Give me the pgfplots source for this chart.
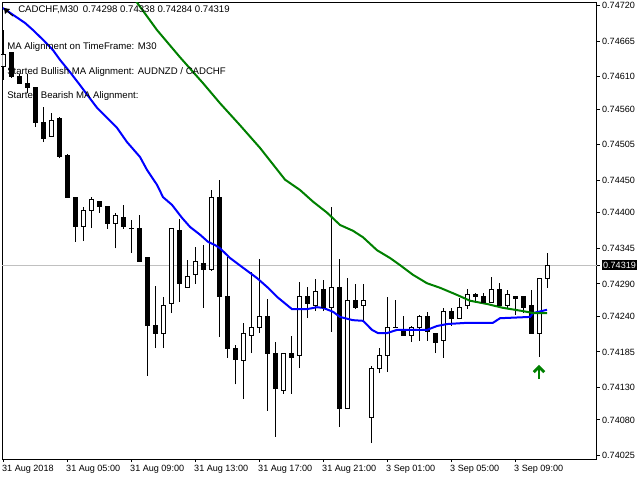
\documentclass[border=0pt]{standalone}
\usepackage{pgfplots}
\usepackage{pgfplotstable}
\pgfplotsset{compat=1.18}
\usepackage{fontspec}
\setmainfont{Liberation Sans}
\definecolor{mablue}{RGB}{0,0,255}
\definecolor{magreen}{RGB}{0,128,0}
\definecolor{pricegray}{RGB}{192,192,192}
\newcommand\tfont{\fontsize{6.8}{8}\selectfont}
\newcommand\infofont{\fontsize{7.2}{9}\selectfont}
\pgfdeclareplotmark{uparr}{%
  \pgfsetlinewidth{2.2pt}%
  \pgfpathmoveto{\pgfpoint{0pt}{-4.9pt}}%
  \pgfpathlineto{\pgfpoint{0pt}{3.6pt}}%
  \pgfusepathqstroke
  \pgfpathmoveto{\pgfpoint{-3.9pt}{0.4pt}}%
  \pgfpathlineto{\pgfpoint{0pt}{4.3pt}}%
  \pgfpathlineto{\pgfpoint{3.9pt}{0.4pt}}%
  \pgfusepathqstroke
}
% columns: index, low, lower body edge, upper body edge, high
\pgfplotstableread{
i L lo hi H
0 0.74605 0.74625 0.74644 0.74682
6 0.74517 0.74517 0.74543 0.74554
10 0.74356 0.74378 0.74403 0.74409
11 0.74376 0.74403 0.74420 0.74424
14 0.74345 0.74384 0.74395 0.74400
16 0.74338 0.74376 0.74376 0.74389
20 0.74191 0.74213 0.74256 0.74270
21 0.74245 0.74259 0.74376 0.74376
23 0.74285 0.74285 0.74302 0.74327
24 0.74290 0.74304 0.74324 0.74347
26 0.74310 0.74312 0.74423 0.74435
30 0.74112 0.74171 0.74213 0.74230
31 0.74183 0.74210 0.74223 0.74308
32 0.74214 0.74222 0.74239 0.74328
35 0.74120 0.74125 0.74183 0.74183
37 0.74160 0.74179 0.74271 0.74293
39 0.74248 0.74257 0.74278 0.74298
41 0.74216 0.74254 0.74284 0.74409
43 0.74098 0.74098 0.74265 0.74299
45 0.74234 0.74257 0.74265 0.74290
46 0.74044 0.74084 0.74159 0.74163
47 0.74152 0.74159 0.74179 0.74191
48 0.74154 0.74179 0.74223 0.74270
49 0.74222 0.74223 0.74223 0.74265
51 0.74200 0.74211 0.74222 0.74225
52 0.74202 0.74222 0.74239 0.74242
55 0.74176 0.74202 0.74248 0.74253
57 0.74236 0.74236 0.74254 0.74268
58 0.74251 0.74256 0.74274 0.74282
61 0.74261 0.74261 0.74281 0.74301
63 0.74251 0.74256 0.74273 0.74281
67 0.74177 0.74214 0.74298 0.74299
68 0.74284 0.74298 0.74319 0.74338
}\bulltab
\pgfplotstableread{
i L lo hi H
1 0.74608 0.74610 0.74647 0.74648
2 0.74600 0.74600 0.74611 0.74614
3 0.74585 0.74594 0.74600 0.74614
4 0.74532 0.74539 0.74593 0.74593
5 0.74509 0.74515 0.74539 0.74563
7 0.74484 0.74486 0.74546 0.74548
8 0.74424 0.74424 0.74489 0.74491
9 0.74355 0.74378 0.74424 0.74424
12 0.74400 0.74409 0.74417 0.74417
13 0.74375 0.74384 0.74410 0.74410
15 0.74375 0.74378 0.74393 0.74412
17 0.74324 0.74325 0.74376 0.74396
18 0.74148 0.74225 0.74330 0.74330
19 0.74191 0.74213 0.74225 0.74287
22 0.74262 0.74290 0.74372 0.74390
25 0.74253 0.74313 0.74322 0.74350
27 0.74208 0.74270 0.74423 0.74451
28 0.74176 0.74190 0.74270 0.74332
29 0.74135 0.74174 0.74191 0.74196
33 0.74094 0.74183 0.74239 0.74267
34 0.74054 0.74129 0.74183 0.74200
36 0.74120 0.74177 0.74183 0.74210
38 0.74237 0.74259 0.74271 0.74285
40 0.74248 0.74253 0.74281 0.74296
42 0.74069 0.74098 0.74284 0.74328
44 0.74251 0.74254 0.74265 0.74290
50 0.74210 0.74210 0.74217 0.74240
53 0.74202 0.74216 0.74239 0.74247
54 0.74183 0.74200 0.74213 0.74213
56 0.74225 0.74236 0.74248 0.74253
59 0.74261 0.74270 0.74274 0.74276
60 0.74261 0.74261 0.74270 0.74276
62 0.74253 0.74256 0.74281 0.74291
64 0.74242 0.74268 0.74271 0.74271
65 0.74245 0.74254 0.74270 0.74270
66 0.74214 0.74214 0.74256 0.74281
}\beartab
\pgfplotsset{
  band/.style={draw=none, mark=none, forget plot, error bars/.cd, y dir=plus, y explicit, error mark=none,
     error bar style={solid, line cap=butt, #1}},
  edge/.style={only marks, mark=-, mark size=1.875pt, mark options={solid, black, line width=0.75pt}, forget plot},
}
\begin{document}
\begin{tikzpicture}
\path[use as bounding box] (0,0) rectangle (480pt,360pt);
\begin{axis}[
  at={(1.73pt,15.75pt)}, anchor=south west,
  scale only axis, width=445.8pt, height=342.4pt,
  xmin=-0.0875, xmax=74.21, ymin=0.740196, ymax=0.747246,
  axis line style={line width=0.75pt},
  tick align=outside, major tick length=2.4pt,
  tick style={black, line width=0.75pt},
  ytick pos=right, yticklabel pos=right,
  xtick pos=left,
  xtick={0,8,16,24,32,40,48,56,64},
  xticklabels={31 Aug 2018,31 Aug 05:00,31 Aug 09:00,31 Aug 13:00,31 Aug 17:00,31 Aug 21:00,3 Sep 01:00,3 Sep 05:00,3 Sep 09:00},
  ytick={0.74720,0.74665,0.74610,0.74560,0.74505,0.74450,0.74400,0.74345,0.74290,0.74240,0.74185,0.74130,0.74080,0.74025},
  yticklabels={0.74720,0.74665,0.74610,0.74560,0.74505,0.74450,0.74400,0.74345,0.74290,0.74240,0.74185,0.74130,0.74080,0.74025},
  xticklabel style={anchor=north west, inner sep=0pt, font=\tfont, xshift=-0.8pt, yshift=-1.8pt},
  yticklabel style={anchor=west, inner sep=0pt, font=\tfont, xshift=1.5pt},
  extra y ticks={0.74319}, extra y tick labels={0.74319},
  extra y tick style={grid=major, major grid style={pricegray, line width=0.75pt},
    yticklabel style={fill=black, text=white, inner xsep=1.2pt, inner ysep=1.5pt, xshift=-0.5pt}},
]
% wicks
\addplot[band={black, line width=0.75pt}] table[x=i, y=L, y error expr=\thisrow{H}-\thisrow{L}] {\bulltab};
\addplot[band={black, line width=0.75pt}] table[x=i, y=L, y error expr=\thisrow{H}-\thisrow{L}] {\beartab};
% bodies
\addplot[band={black, line width=3.75pt}] table[x=i, y=lo, y error expr=\thisrow{hi}-\thisrow{lo}] {\bulltab};
\addplot[band={white, line width=2.25pt}] table[x=i, y=lo, y error expr=\thisrow{hi}-\thisrow{lo}] {\bulltab};
\addplot[band={black, line width=3.75pt}] table[x=i, y=lo, y error expr=\thisrow{hi}-\thisrow{lo}] {\beartab};
\addplot[edge] table[x=i, y=lo] {\bulltab};
\addplot[edge] table[x=i, y=hi] {\bulltab};
\addplot[edge] table[x=i, y=lo] {\beartab};
\addplot[edge] table[x=i, y=hi] {\beartab};
% fast MA (blue)
\addplot[mablue, line width=1.5pt, mark=none] coordinates {
(0,0.74716) (2.75,0.74693) (3.75,0.74682) (5,0.74667) (6.25,0.74651) (7.125,0.74636)
(8.375,0.74617) (9.625,0.74597) (11.75,0.74562) (14.25,0.74531) (15.5,0.74509)
(17.125,0.74486) (18,0.74466) (19.25,0.74443) (20,0.74424) (21.125,0.74412)
(22.375,0.74392) (23.375,0.74378) (24.625,0.74366) (25.625,0.74355) (26.5,0.74350)
(27.125,0.74345) (28.375,0.74330) (30,0.74315) (31.75,0.74299) (33.125,0.74284)
(34.25,0.74270) (36.125,0.74251) (38,0.74251) (39.25,0.74254) (40,0.74253)
(41.25,0.74247) (42.125,0.74239) (43.75,0.74234) (45,0.74233) (46.125,0.74219)
(46.875,0.74214) (48,0.74214) (49.25,0.74219) (53,0.74219) (54.25,0.74225)
(55.5,0.74228) (58.125,0.74230) (61.25,0.74230) (62.125,0.74237) (65.875,0.74239)
(66.25,0.74245) (68,0.74250)};
% slow MA (green)
\addplot[magreen, line width=1.5pt, mark=none] coordinates {
(16.25,0.74733) (19.25,0.74682) (22.125,0.74640) (25,0.74600) (27.125,0.74569)
(29.625,0.74535) (32.125,0.74500) (35.25,0.74451) (37.125,0.74435) (38.75,0.74417)
(40.5,0.74400) (42.125,0.74381) (43.75,0.74372) (45,0.74362) (46.75,0.74342)
(48.375,0.74330) (49.625,0.74319) (51.25,0.74304) (53,0.74291) (54.625,0.74284)
(56.75,0.74273) (58.375,0.74264) (60.5,0.74259) (62.5,0.74253) (65,0.74248)
(66.25,0.74245) (68,0.74245)};
% buy arrow
\addplot[only marks, mark=uparr, color=magreen] coordinates {(67,0.74153)};
\end{axis}
\fill[black] (3pt,354pt) -- (7.5pt,353.25pt) -- (3.75pt,349.5pt) -- cycle;
\draw[black, line width=0.75pt] (5pt,351.9pt) -- (9.75pt,348pt);
\node[anchor=west, inner sep=0pt, font=\infofont] at (13.5pt,352.5pt) {CADCHF,M30\hspace{0.45em}0.74298 0.74338 0.74284 0.74319};
\node[anchor=west, inner sep=0pt, font=\infofont] at (5.25pt,324.4pt) {MA Alignment on TimeFrame: M30};
\node[anchor=west, inner sep=0pt, font=\infofont] at (5.25pt,306pt) {Started Bullish MA Alignment: AUDNZD / CADCHF};
\node[anchor=west, inner sep=0pt, font=\infofont] at (5.25pt,288pt) {Started Bearish MA Alignment:};
\end{tikzpicture}
\end{document}
